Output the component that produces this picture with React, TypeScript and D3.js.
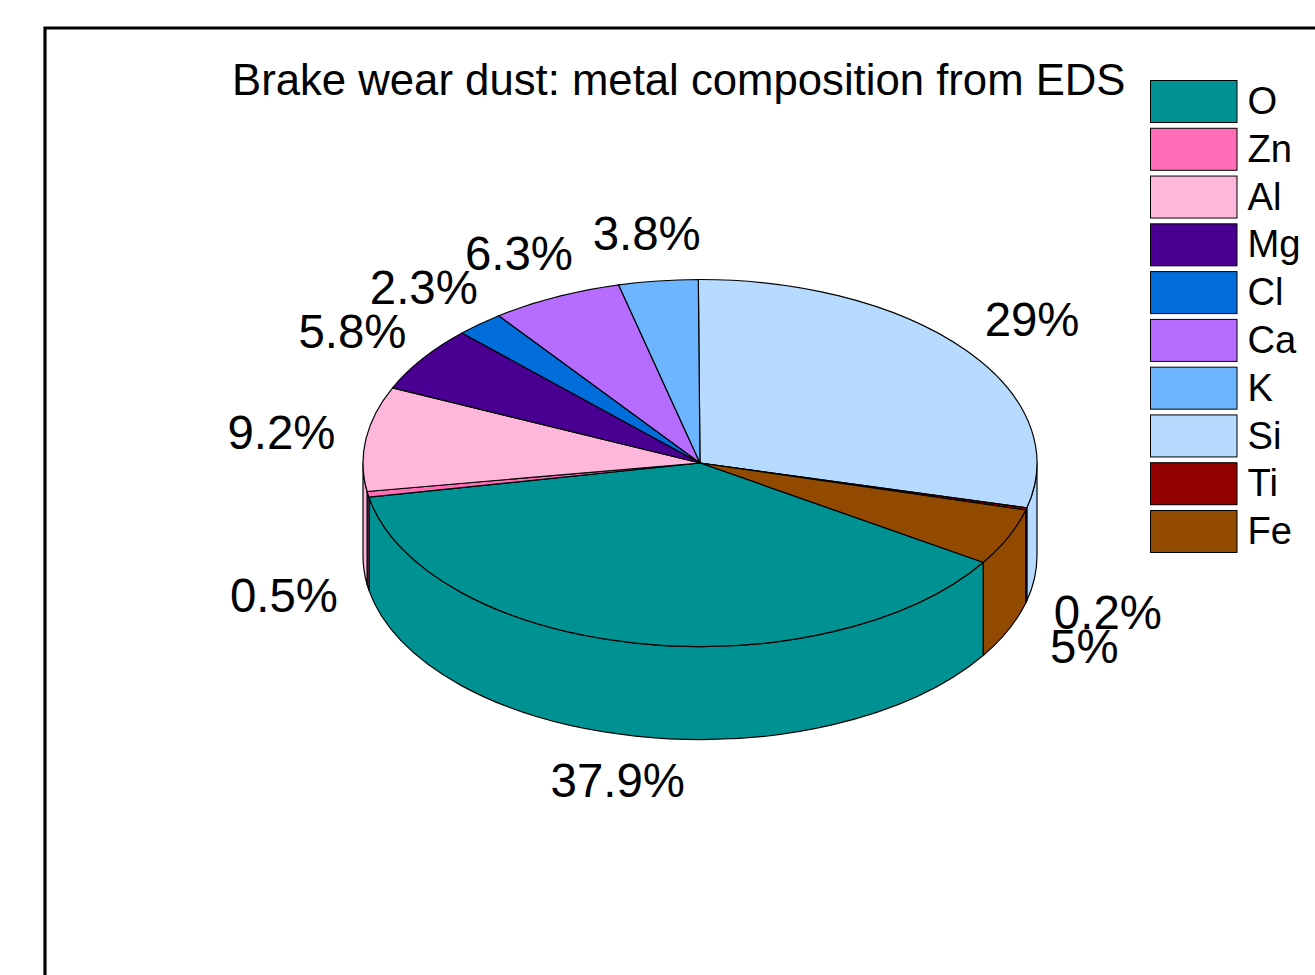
import React from "react";
import * as d3 from "d3";

const categories = ["Si", "Ti", "Fe", "O", "Zn", "Al", "Mg", "Cl", "Ca", "K"];
const values = [29, 0.2, 5, 37.9, 0.5, 9.2, 5.8, 2.3, 6.3, 3.8];
const sliceColors = ["#b6dbff", "#920000", "#924900", "#009292", "#ff6db6", "#ffb6db", "#490092", "#006ddb", "#b66dff", "#6db6ff"];
const legendOrder = ["O", "Zn", "Al", "Mg", "Cl", "Ca", "K", "Si", "Ti", "Fe"];
const labelNudgeX = [0.5, 0, -1, -1.5, -1, -1, -1, -1, -1, -1];
const labelNudgeY = [-2, -1, -2, -1, 0, 0, -1, -2, -2, -2];

const W = 1315, H = 975;
const cx = 700, cy = 463, rx = 337, ry = 183.5, depth = 93, labelFactor = 1.25, rotation = -0.005;
const font = "'Liberation Sans', Arial, sans-serif";

const pieGen = d3.pie<number>().sort(null).value((d) => d).startAngle(rotation).endAngle(2 * Math.PI + rotation);
const arcGen = d3.arc<any>().innerRadius(0).outerRadius(rx);
const px = (a: number) => cx + rx * Math.sin(a);
const py = (a: number) => cy - ry * Math.cos(a);

function wallPath(a0: number, a1: number) {
  const s = Math.max(a0, Math.PI / 2), e = Math.min(a1, (3 * Math.PI) / 2);
  if (e <= s) return null;
  const large = e - s > Math.PI ? 1 : 0;
  return `M${px(s)},${py(s)}A${rx},${ry} 0 ${large} 1 ${px(e)},${py(e)}L${px(e)},${py(e) + depth}A${rx},${ry} 0 ${large} 0 ${px(s)},${py(s) + depth}Z`;
}

export default function App() {
  const arcs = pieGen(values);
  const colorOf = d3.scaleOrdinal<string, string>().domain(categories).range(sliceColors);
  const legendY = d3.scaleLinear().domain([0, 9]).range([80.5, 510.5]);
  return (
    <svg width={W} height={H} style={{ position: "absolute", left: 0, top: 0, background: "#fff" }} fontFamily={font}>
      <path d={`M45,${H}V28H${W}`} fill="none" stroke="#000" strokeWidth={3.2} />
      <text x={232} y={94.5} fontSize={43.7}>Brake wear dust: metal composition from EDS</text>
      {arcs.map((a, i) => {
        const d = wallPath(a.startAngle, a.endAngle);
        return d ? <path key={i} d={d} fill={sliceColors[i]} stroke="#000" strokeWidth={1.2} strokeLinejoin="round" /> : null;
      })}
      <g transform={`translate(${cx},${cy}) scale(1,${ry / rx})`}>
        {arcs.map((a, i) => (
          <path key={i} d={arcGen(a) as string} fill={sliceColors[i]} stroke="#000" strokeWidth={1.2} vectorEffect="non-scaling-stroke" strokeLinejoin="round" />
        ))}
      </g>
      {arcs.map((a, i) => {
        const m = (a.startAngle + a.endAngle) / 2;
        const x = cx + labelFactor * rx * Math.sin(m) + labelNudgeX[i];
        const y = cy - labelFactor * ry * Math.cos(m) + (Math.cos(m) < 0 ? depth : 0) + labelNudgeY[i];
        return (
          <text key={i} x={x} y={y} dy="0.35em" textAnchor="middle" fontSize={47.4}>{`${values[i]}%`}</text>
        );
      })}
      {legendOrder.map((c, i) => (
        <g key={c}>
          <rect x={1150.5} y={legendY(i)} width={86.5} height={42} fill={colorOf(c)} stroke="#000" strokeWidth={1} />
          <text x={1247.5} y={legendY(i) + 21} dy="0.33em" fontSize={38.2}>{c}</text>
        </g>
      ))}
    </svg>
  );
}
